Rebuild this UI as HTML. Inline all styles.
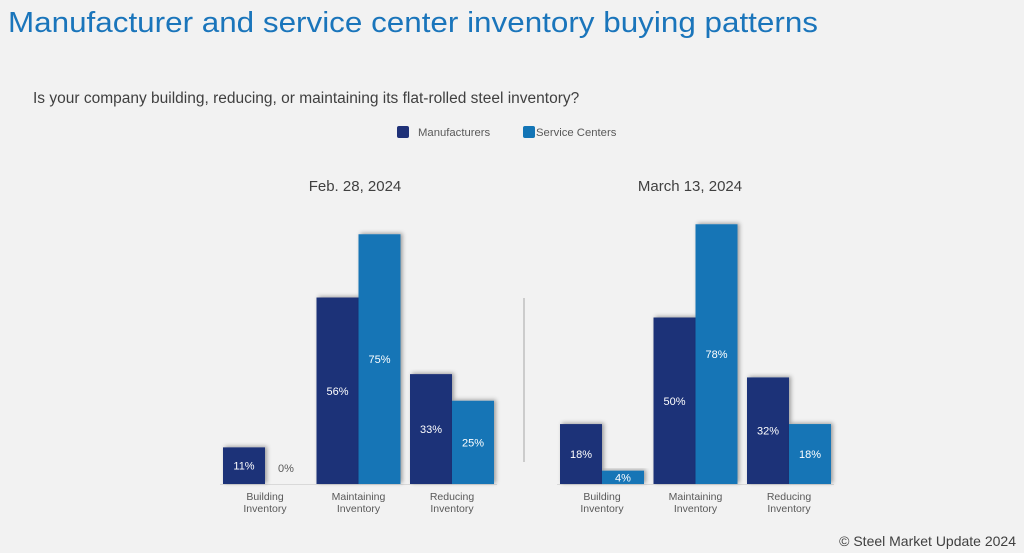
<!DOCTYPE html>
<html><head><meta charset="utf-8"><style>
body{margin:0;background:#f2f2f2;}
svg{display:block;font-family:"Liberation Sans",Arial,sans-serif;}
</style></head><body>
<svg width="1024" height="553" viewBox="0 0 1024 553">
<defs><filter id="sh" x="-20%" y="-20%" width="150%" height="150%"><feDropShadow dx="2" dy="-1" stdDeviation="2" flood-color="#000" flood-opacity="0.35"/></filter></defs>
<rect width="1024" height="553" fill="#f2f2f2"/>
<text x="8" y="32" font-size="29" textLength="810" lengthAdjust="spacingAndGlyphs" fill="#1a75bb">Manufacturer and service center inventory buying patterns</text>
<text x="33" y="103" font-size="15.5" fill="#404040">Is your company building, reducing, or maintaining its flat-rolled steel inventory?</text>
<rect x="397" y="126" width="12" height="12" rx="2" fill="#1f3178"/>
<text x="418" y="136" font-size="11.3" fill="#595959">Manufacturers</text>
<rect x="523" y="126" width="12" height="12" rx="2" fill="#1375b6"/>
<text x="536" y="136" font-size="11.3" fill="#595959">Service Centers</text>
<line x1="524" y1="298" x2="524" y2="462" stroke="#a6a6a6" stroke-width="1"/>
<text x="1016" y="546" font-size="14" fill="#404040" text-anchor="end">© Steel Market Update 2024</text>
<g id="plots"></g>
</svg>
<script>
const categories=["Building|Inventory","Maintaining|Inventory","Reducing|Inventory"];
const panelTitles=["Feb. 28, 2024","March 13, 2024"];
const febManufacturers=[11,56,33];
const febServiceCenters=[0,75,25];
const marManufacturers=[18,50,32];
const marServiceCenters=[4,78,18];
const NS="http://www.w3.org/2000/svg";
const g=document.getElementById('plots');
const baseY=484, pxPer=3.33;
function y(v){return baseY-v*pxPer;}
function mk(tag,attrs,parent){const e=document.createElementNS(NS,tag);for(const k in attrs)e.setAttribute(k,attrs[k]);(parent||g).appendChild(e);return e;}
const panels=[{x0:223,m:febManufacturers,s:febServiceCenters,cx:355},{x0:560,m:marManufacturers,s:marServiceCenters,cx:690}];
panels.forEach((p,pi)=>{
  const t=mk('text',{x:p.cx,y:191,'font-size':15,fill:'#404040','text-anchor':'middle'});
  
  
  t.textContent=panelTitles[pi];
  const ax=mk('line',{x1:p.x0-3,y1:baseY+0.5,x2:p.x0+3+93.5*2+84,y2:baseY+0.5,stroke:'#d9d9d9'});
  
  
  categories.forEach((c,i)=>{
    const gx=p.x0+i*93.5;
    [[p.m[i],'#1f3178','manufacturers'],[p.s[i],'#1375b6','service-centers']].forEach((d,j)=>{
      const v=d[0],bx=gx+j*42;
      if(v>0){
        const r=mk('rect',{x:bx,y:y(v),width:42,height:v*pxPer,fill:d[1],filter:'url(#sh)'});
        
        
      }
      const ly=v>0?y(v/2)+4:baseY-12;
      const lt=mk('text',{x:bx+21,y:ly,'font-size':11,fill:v>0?'#fff':'#595959','text-anchor':'middle'});
      
      
      lt.textContent=v+'%';
    });
    const parts=c.split('|');
    parts.forEach((s,k)=>{
      const ct=mk('text',{x:gx+42,y:500+k*12,'font-size':10.5,fill:'#595959','text-anchor':'middle'});
      
      
      ct.textContent=s;
    });
  });
});
</script>
</body></html>
